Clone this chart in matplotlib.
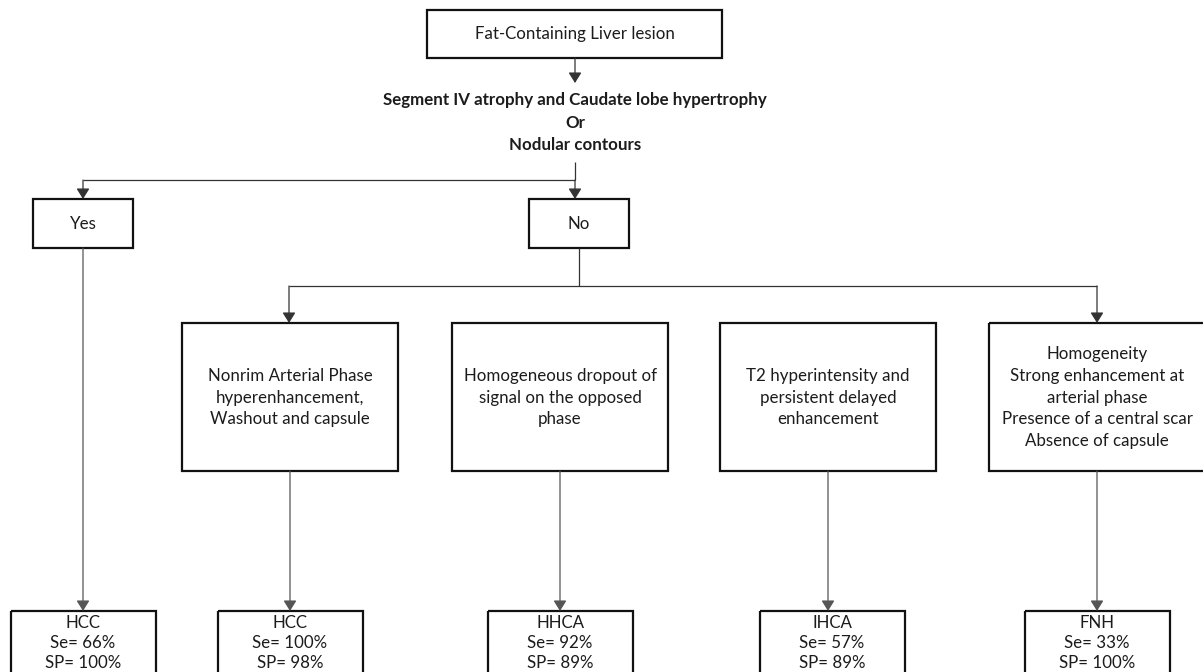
import matplotlib
matplotlib.use("Agg")
import matplotlib.pyplot as plt
from matplotlib.patches import Rectangle
from matplotlib.textpath import TextPath
from matplotlib.font_manager import FontProperties

# ---- content ----
top_label = "Fat-Containing Liver lesion"
question_lines = ["Segment IV atrophy and Caudate lobe hypertrophy", "Or", "Nodular contours"]
branch_labels = ["Yes", "No"]
criteria = [
    ["Nonrim Arterial Phase", "hyperenhancement,", "Washout and capsule"],
    ["Homogeneous dropout of", "signal on the opposed", "phase"],
    ["T2 hyperintensity and", "persistent delayed", "enhancement"],
    ["Homogeneity", "Strong enhancement at", "arterial phase",
     "Presence of a central scar", "Absence of capsule"],
]
diagnoses = ["HCC", "HCC", "HHCA", "IHCA", "FNH"]
sensitivity = [66, 100, 92, 57, 33]
specificity = [100, 98, 89, 89, 100]

W, H = 1203, 672
DPI = 100
plt.rcParams['font.family'] = ['Lato', 'DejaVu Sans']

fig = plt.figure(figsize=(W / DPI, H / DPI), dpi=DPI)
ax = fig.add_axes([0, 0, 1, 1])
ax.set_xlim(0, W)
ax.set_ylim(H, 0)
ax.axis('off')

TXT = '#1c1c1c'
BOX_LW = 1.6
LINE_LW = 0.9


def fit_size(text, target_px, weight='normal'):
    fp = FontProperties(family='Lato', weight=weight)
    tp = TextPath((0, 0), text, size=10, prop=fp)
    w = tp.get_extents().width  # in points at size 10 -> pixels = pt*DPI/72
    w_px = w * DPI / 72.0
    return 10 * target_px / w_px


FS = fit_size("Presence of a central scar", 188)
FSB = fit_size(question_lines[0], 381, 'bold')


def box(x0, y0, x1, y1):
    ax.add_patch(Rectangle((x0, y0), x1 - x0, y1 - y0, fill=False,
                           ec='#111111', lw=BOX_LW, joinstyle='miter'))


def line(xs, ys, color='#333333'):
    ax.plot(xs, ys, color=color, lw=LINE_LW, solid_capstyle='butt')


def arrow(x, y0, y1, color='#333333'):
    ax.annotate('', xy=(x, y1), xytext=(x, y0),
                arrowprops=dict(arrowstyle='-|>,head_length=0.45,head_width=0.28',
                                color=color, lw=LINE_LW, shrinkA=0, shrinkB=0,
                                mutation_scale=14))


def lines_text(cx, cy, lines, spacing, fs, weight='normal'):
    n = len(lines)
    for i, t in enumerate(lines):
        y = cy + (i - (n - 1) / 2) * spacing
        ax.text(cx, y, t, ha='center', va='center', fontsize=fs,
                fontweight=weight, color=TXT)


# top box
box(427, 10, 722, 58)
lines_text(575, 34, [top_label], 0, FS)
arrow(575, 58, 83)

# question
lines_text(575, 123, question_lines, 22.5, FSB, 'bold')
line([575, 575], [162, 180])
line([83, 575], [180, 180])
arrow(83, 180, 199)
arrow(575, 180, 199)

# yes / no boxes
yn_cx = [83, 579]
for cx, lab in zip(yn_cx, branch_labels):
    box(cx - 50, 199, cx + 50, 248)
    lines_text(cx, 224, [lab], 0, FS)

# yes -> HCC
arrow(83, 248, 611, color='#555555')

# no -> criteria
line([579, 579], [248, 286])
line([289, 1097], [286, 286])
arrow(289, 286, 323)
arrow(1097, 286, 323)

mid_cx = [290, 560, 828, 1097]
mid_half = 108
for cx, lines in zip(mid_cx, criteria):
    box(cx - mid_half, 323, cx + mid_half, 471)
    lines_text(cx, 397.5, lines, 21.7, FS)
    arrow(cx, 471, 611, color='#555555')

# bottom boxes
bot_cx = [83, 290, 560, 832, 1097]
for cx, d, se, sp in zip(bot_cx, diagnoses, sensitivity, specificity):
    box(cx - 72.5, 611, cx + 72.5, 700)
    lines_text(cx, 643, [d, f"Se= {se}%", f"SP= {sp}%"], 20.5, FS)

fig.savefig('out.png', dpi=DPI, facecolor='white')
